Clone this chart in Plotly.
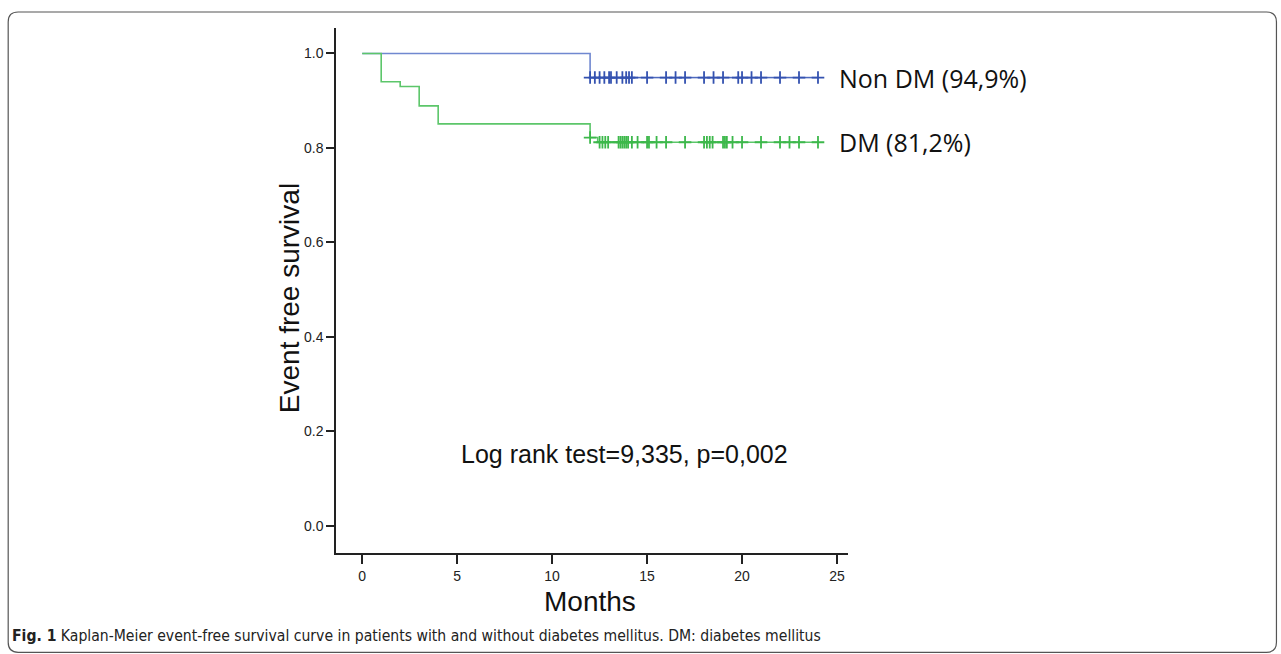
import plotly.graph_objects as go

# ---------------- data ----------------
nondm_times = [0, 12, 24]
nondm_surv = [1.0, 0.949, 0.949]
nondm_censor = [12.0, 12.25, 12.5, 12.75, 13.0, 13.1, 13.4, 13.7, 13.9, 14.05, 14.2,
                15.0, 16.0, 16.5, 17.0, 18.0, 18.5, 19.0, 19.8, 20.0, 20.5, 21.0,
                22.0, 23.0, 24.0]

dm_times = [0, 1, 2, 3, 4, 12, 12.4, 24]
dm_surv = [1.0, 0.940, 0.930, 0.889, 0.851, 0.822, 0.812, 0.812]
dm_censor = [12.0, 12.5, 12.65, 12.8, 12.95, 13.5, 13.6, 13.7, 13.8, 13.9, 14.0, 14.2,
             14.5, 15.0, 15.1, 15.5, 16.0, 17.0, 18.0, 18.15, 18.3, 18.45, 19.0, 19.1,
             19.2, 19.5, 20.0, 21.0, 22.0, 22.5, 23.0, 24.0]

x_ticks = [0, 5, 10, 15, 20, 25]
y_ticks = [0.0, 0.2, 0.4, 0.6, 0.8, 1.0]

labels = ["Non DM (94,9%)", "DM (81,2%)"]
stat_text = "Log rank test=9,335, p=0,002"
caption_bold = "Fig. 1"
caption_rest = " Kaplan-Meier event-free survival curve in patients with and without diabetes mellitus. DM: diabetes mellitus"


def step_value(times, surv, t):
    idx = 0
    for i, tt in enumerate(times):
        if tt <= t:
            idx = i
    return surv[idx]


# ---------------- layout geometry ----------------
W, H = 1281, 654
L, R, T, B = 336, 848.3, 28, 552.7


def px(xp):
    return (xp - L) / (R - L)


def py(yp):
    return (B - yp) / (B - T)


BLUE_LINE, BLUE_MARK = "#7088d0", "#3452b0"
GREEN_LINE, GREEN_MARK = "#5cc66a", "#3db84b"

fig = go.Figure()

# Non DM
fig.add_trace(go.Scatter(x=nondm_times, y=nondm_surv, mode="lines", line_shape="hv",
                         line=dict(color=BLUE_LINE, width=1.6), hoverinfo="skip",
                         showlegend=False))
fig.add_trace(go.Scatter(x=[nondm_times[1], nondm_times[-1]],
                         y=[nondm_surv[1], nondm_surv[-1]], mode="lines",
                         line=dict(color=BLUE_MARK, width=1.3), opacity=0.55,
                         showlegend=False, hoverinfo="skip"))
fig.add_trace(go.Scatter(x=nondm_censor,
                         y=[step_value(nondm_times[:-1], nondm_surv[:-1], t) for t in nondm_censor],
                         mode="markers",
                         marker=dict(symbol="cross-thin-open", size=9, color=BLUE_MARK,
                                     line=dict(color=BLUE_MARK, width=1.8)),
                         showlegend=False))

# DM
fig.add_trace(go.Scatter(x=dm_times, y=dm_surv, mode="lines", line_shape="hv",
                         line=dict(color=GREEN_LINE, width=1.6), hoverinfo="skip",
                         showlegend=False))
fig.add_trace(go.Scatter(x=dm_censor,
                         y=[step_value(dm_times[:-1], dm_surv[:-1], t) for t in dm_censor],
                         mode="markers",
                         marker=dict(symbol="cross-thin-open", size=9, color=GREEN_MARK,
                                     line=dict(color=GREEN_MARK, width=1.8)),
                         showlegend=False))

axis_font = dict(family="Liberation Sans, Arial", size=14, color="#222")

fig.update_layout(
    width=W, height=H,
    margin=dict(l=L, r=W - R, t=T, b=H - B, pad=0),
    paper_bgcolor="white", plot_bgcolor="white",
    xaxis=dict(range=[-1.38, 25.58], tickvals=x_ticks, showgrid=False, zeroline=False,
               showline=True, linecolor="#222", linewidth=1.5,
               ticks="outside", ticklen=9, tickwidth=1.5, tickcolor="#222",
               tickfont=axis_font),
    yaxis=dict(range=[-0.058, 1.054], tickvals=y_ticks, tickformat=".1f", showgrid=False,
               zeroline=False, showline=True, linecolor="#222", linewidth=1.5,
               ticks="outside", ticklen=8, tickwidth=1.5, tickcolor="#222",
               tickfont=axis_font),
)

big = dict(family="Liberation Sans, Arial", size=28, color="#111")
lab_font = dict(family="Open Sans", size=25, color="#111")

annotations = [
    dict(text="Event free survival", xref="paper", yref="paper", x=px(289), y=py(298),
         textangle=-90, showarrow=False, font=big, xanchor="center", yanchor="middle"),
    dict(text="Months", xref="paper", yref="paper", x=px(590), y=py(601),
         showarrow=False, font=big, xanchor="center", yanchor="middle"),
    dict(text=stat_text, xref="x", yref="y", x=13.8, y=0.151, showarrow=False,
         font=dict(family="Liberation Sans, Arial", size=25, color="#111"),
         xanchor="center", yanchor="middle"),
    dict(text=labels[0], xref="x", yref="y", x=25.0, y=nondm_surv[-1], showarrow=False,
         font=lab_font, xanchor="left", yanchor="middle"),
    dict(text=labels[1], xref="x", yref="y", x=25.0, y=dm_surv[-1], showarrow=False,
         font=lab_font, xanchor="left", yanchor="middle"),
    dict(text="<b>" + caption_bold + "</b>" + caption_rest, xref="paper", yref="paper",
         x=px(10), y=py(636), showarrow=False, xanchor="left", yanchor="middle",
         font=dict(family="DejaVu Sans Condensed, Liberation Sans Narrow",
                   size=15.6, color="#222")),
]
fig.update_layout(annotations=annotations)

# rounded frame around the figure
x0, x1, y0, y1, r = 8, 1277, 12, 652, 10
path = (f"M {px(x0 + r)},{py(y0)} L {px(x1 - r)},{py(y0)} "
        f"Q {px(x1)},{py(y0)} {px(x1)},{py(y0 + r)} "
        f"L {px(x1)},{py(y1 - r)} Q {px(x1)},{py(y1)} {px(x1 - r)},{py(y1)} "
        f"L {px(x0 + r)},{py(y1)} Q {px(x0)},{py(y1)} {px(x0)},{py(y1 - r)} "
        f"L {px(x0)},{py(y0 + r)} Q {px(x0)},{py(y0)} {px(x0 + r)},{py(y0)} Z")
fig.add_shape(type="path", path=path, xref="paper", yref="paper",
              line=dict(color="#555", width=1.2), layer="below")

fig.write_html("out.html")
